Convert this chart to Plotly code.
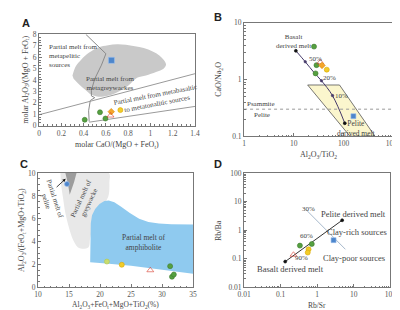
import plotly.graph_objects as go
import math

# ---------------- Panel A data ----------------
A_grey_x = [0.30, 0.33, 0.38, 0.45, 0.53, 0.62, 0.70, 0.78, 0.86, 0.94, 1.02, 1.08, 1.12, 1.14, 1.12, 1.05, 0.96, 0.88, 0.80, 0.72, 0.65, 0.58, 0.52, 0.47, 0.42, 0.36, 0.31]
A_grey_y = [4.4, 5.2, 5.8, 6.4, 6.85, 7.05, 7.12, 7.08, 6.95, 6.8, 6.5, 6.15, 5.75, 5.35, 5.0, 4.7, 4.4, 4.2, 3.5, 3.0, 2.7, 2.55, 2.55, 2.7, 3.1, 3.6, 4.1]
A_pel_x = [0.42, 0.60, 0.56, 0.50, 0.47, 0.47, 0.50, 0.46, 0.445, 0.45]
A_pel_y = [8.0, 6.3, 5.3, 4.1, 3.1, 2.6, 2.45, 2.2, 1.3, 0.35]
A_up_x = [0.0, 1.4]
A_up_y = [0.95, 4.55]
A_lo_x = [0.45, 1.4]
A_lo_y = [0.30, 1.68]
A_green_x = [0.41, 0.547, 0.596]
A_green_y = [0.51, 1.17, 0.62]
A_yel_x = [0.73]
A_yel_y = [1.36]
A_org_x = [0.648]
A_org_y = [1.22]
A_red_x = [0.642]
A_red_y = [0.88]
A_blue_x = [0.65]
A_blue_y = [5.72]

# ---------------- Panel B data ----------------
B_par_x = [19, 83, 430, 135, 19]
B_par_y = [0.80, 0.80, 0.1, 0.1, 0.80]
B_mix_x = [11, 17, 26, 36, 60, 106]
B_mix_y = [3.2, 2.05, 1.3, 0.95, 0.52, 0.17]
B_tick_x = [17, 36, 60]
B_tick_y = [2.05, 0.95, 0.52]
B_green_x = [25.5, 28.6, 27.4]
B_green_y = [3.79, 1.79, 1.28]
B_red_x = [34.2]
B_red_y = [2.01]
B_org_x = [36.9]
B_org_y = [1.77]
B_yel_x = [46]
B_yel_y = [1.49]
B_blue_x = [158]
B_blue_y = [0.226]
B_ps_y = 0.3

# ---------------- Panel C data ----------------
C_grey_x = [13.6, 21.4, 21.5, 21.3, 20.0, 19.0, 18.4, 18.1, 16.6, 15.8, 15.1, 14.4, 14.0, 13.7]
C_grey_y = [10.0, 10.0, 9.2, 7.9, 6.8, 5.5, 4.3, 3.5, 3.45, 4.0, 5.0, 6.5, 7.9, 9.0]
C_dark_x = [14.4, 16.2, 15.8, 15.1, 14.8]
C_dark_y = [10.0, 10.0, 9.2, 8.1, 9.1]
C_blue_x = [18.4, 18.5, 18.7, 19.2, 19.9, 20.7, 21.4, 22.3, 23.4, 24.8, 26.3, 27.8, 29.5, 31.5, 35.0, 35.0, 30.0, 25.0, 21.0]
C_blue_y = [2.2, 5.6, 6.3, 6.85, 7.3, 7.55, 7.6, 7.45, 7.05, 6.5, 6.0, 5.72, 5.58, 5.52, 5.5, 1.2, 1.55, 1.9, 2.1]
C_green_x = [31.3, 31.6, 31.9]
C_green_y = [1.86, 0.93, 1.13]
C_lime_x = [21.1]
C_lime_y = [2.26]
C_yel_x = [23.5]
C_yel_y = [1.98]
C_red_x = [28.1]
C_red_y = [1.5]
C_blue_pt_x = [14.66]
C_blue_pt_y = [9.04]

# ---------------- Panel D data ----------------
D_mix_x = [0.133, 4.8]
D_mix_y = [0.080, 2.23]
D_30_x = [0.52, 5.9]
D_30_y = [4.9, 0.215]
D_green_x = [0.336, 0.71]
D_green_y = [0.29, 0.33]
D_yel_x = [0.58, 0.55]
D_yel_y = [0.215, 0.166]
D_red_x = [0.224]
D_red_y = [0.139]
D_blue_x = [2.8]
D_blue_y = [0.45]

SERIF = "Liberation Serif"
TXT = "#444444"
GREEN = "#55a040"
YEL = "#f2cc2a"
ORG = "#f4a52a"
LIME = "#c8dc6e"
RED = "#d93a2b"
BLUE = "#4d86cc"

fig = go.Figure()

def pts(x, y, xa, ya, color, symbol="circle", size=5, line="#3f7a30", fill=None):
    fig.add_trace(go.Scatter(x=x, y=y, xaxis=xa, yaxis=ya, mode="markers",
                             marker=dict(color=fill or color, symbol=symbol, size=size,
                                         line=dict(color=line, width=0.6)),
                             hoverinfo="skip"))

def ln(x, y, xa, ya, color, width=1, dash="solid", fill=None, fillcolor=None, mode="lines"):
    fig.add_trace(go.Scatter(x=x, y=y, xaxis=xa, yaxis=ya, mode=mode,
                             line=dict(color=color, width=width, dash=dash),
                             fill=fill, fillcolor=fillcolor, hoverinfo="skip"))

# ---- Panel A ----
fig.add_trace(go.Scatter(x=A_grey_x, y=A_grey_y, xaxis="x", yaxis="y", mode="lines",
                         fill="toself", fillcolor="#c9c9c9", line=dict(width=0, shape="spline"),
                         hoverinfo="skip"))
ln(A_pel_x, A_pel_y, "x", "y", "#8a8a8a", 1)
ln(A_up_x, A_up_y, "x", "y", "#9a9a9a", 1)
ln(A_lo_x, A_lo_y, "x", "y", "#9a9a9a", 1)
pts(A_green_x, A_green_y, "x", "y", GREEN)
pts(A_yel_x, A_yel_y, "x", "y", YEL, line="#d9a800")
pts(A_org_x, A_org_y, "x", "y", ORG, symbol="diamond", line="#d98a00")
pts(A_red_x, A_red_y, "x", "y", RED, symbol="triangle-up-open", size=6, line=RED)
pts(A_blue_x, A_blue_y, "x", "y", BLUE, symbol="square", size=6, line="#9cc0ec")

# ---- Panel B ----
ln(B_par_x, B_par_y, "x2", "y2", "#555555", 0.8, fill="toself", fillcolor="#fbf6cd")
ln([1, 1000], [B_ps_y, B_ps_y], "x2", "y2", "#999999", 1, dash="dot")
fig.add_trace(go.Scatter(x=B_mix_x, y=B_mix_y, xaxis="x2", yaxis="y2", mode="lines",
                         line=dict(color="#463a6a", width=1, shape="spline"), hoverinfo="skip"))
pts([B_mix_x[0], B_mix_x[-1]], [B_mix_y[0], B_mix_y[-1]], "x2", "y2", "#111111", size=3, line="#111111")
pts(B_tick_x, B_tick_y, "x2", "y2", "#463a6a", size=2.5, line="#463a6a")
pts(B_green_x, B_green_y, "x2", "y2", GREEN)
pts(B_red_x, B_red_y, "x2", "y2", RED, symbol="triangle-up-open", size=6, line=RED)
pts(B_org_x, B_org_y, "x2", "y2", ORG, symbol="diamond", line="#d98a00")
pts(B_yel_x, B_yel_y, "x2", "y2", YEL, line="#d9a800")
pts(B_blue_x, B_blue_y, "x2", "y2", BLUE, symbol="square", size=5, line="#9cc0ec")

# ---- Panel C ----
fig.add_trace(go.Scatter(x=C_grey_x, y=C_grey_y, xaxis="x3", yaxis="y3", mode="lines",
                         fill="toself", fillcolor="#e8e8e8", line=dict(width=0, shape="spline"),
                         hoverinfo="skip"))
ln(C_dark_x, C_dark_y, "x3", "y3", "#9a9a9a", 0, fill="toself", fillcolor="#9c9c9c")
fig.add_trace(go.Scatter(x=C_blue_x, y=C_blue_y, xaxis="x3", yaxis="y3", mode="lines",
                         fill="toself", fillcolor="#8fcaef", line=dict(width=0),
                         hoverinfo="skip"))
pts(C_blue_pt_x, C_blue_pt_y, "x3", "y3", BLUE, symbol="circle", size=5, line="#9cc0ec")
pts(C_lime_x, C_lime_y, "x3", "y3", LIME, line="#b0c850")
pts(C_yel_x, C_yel_y, "x3", "y3", YEL, line="#d9a800")
pts(C_red_x, C_red_y, "x3", "y3", RED, symbol="triangle-up-open", size=6, line=RED)
pts(C_green_x, C_green_y, "x3", "y3", GREEN)

# ---- Panel D ----
ln(D_30_x, D_30_y, "x4", "y4", "#a7b9cc", 1)
ln(D_mix_x, D_mix_y, "x4", "y4", "#333333", 1)
pts(D_mix_x, D_mix_y, "x4", "y4", "#111111", size=3, line="#111111")
pts(D_green_x, D_green_y, "x4", "y4", GREEN)
pts(D_yel_x, D_yel_y, "x4", "y4", YEL, line="#d9a800")
pts(D_red_x, D_red_y, "x4", "y4", RED, symbol="triangle-up-open", size=6, line=RED)
pts(D_blue_x, D_blue_y, "x4", "y4", BLUE, symbol="square", size=5, line="#9cc0ec")

# ---- Axes ----
def ax(domain, anchor, **kw):
    d = dict(domain=domain, anchor=anchor, showline=True, mirror=True, linecolor="#777777",
             linewidth=1, ticks="inside", ticklen=3, tickcolor="#777777", showgrid=False,
             zeroline=False, tickfont=dict(family=SERIF, size=7.5, color="#555555"))
    d.update(kw)
    return d

minor_lin = lambda dt: dict(ticks="inside", ticklen=1.5, tickcolor="#777777", dtick=dt, showgrid=False)
minor_log = dict(ticks="inside", ticklen=1.5, tickcolor="#777777", dtick="D1", showgrid=False)

LOW = [0.085, 0.465]

fig.update_layout(
    width=400, height=310, margin=dict(l=0, r=0, t=0, b=0),
    paper_bgcolor="white", plot_bgcolor="white", showlegend=False,
    xaxis=ax([0.0625, 0.4675], "y", range=[0, 1.4], dtick=0.2, tickformat="~g",
             minor=minor_lin(0.04)),
    yaxis=ax([0.6226, 0.9258], "x", range=[0, 8], dtick=1, minor=minor_lin(0.25)),
    xaxis2=ax([0.595, 0.9825], "y2", type="log", range=[0, 3],
              tickvals=[1, 10, 100, 1000], ticktext=["1", "10", "100", "1000"], minor=minor_log),
    yaxis2=ax([0.5871, 0.9645], "x2", type="log", range=[-1, 1],
              tickvals=[0.1, 1, 10], ticktext=["0.1", "1", "10"], minor=minor_log),
    xaxis3=ax([0.06, 0.4625], "y3", range=[10, 35], dtick=5, minor=minor_lin(1)),
    yaxis3=ax(LOW, "x3", range=[0, 10], dtick=2, minor=minor_lin(0.5)),
    xaxis4=ax([0.595, 0.975], "y4", type="log", range=[-2, 2],
              tickvals=[0.01, 0.1, 1, 10, 100], ticktext=["0.01", "0.1", "1", "10", "100"],
              minor=minor_log),
    yaxis4=ax(LOW, "x4", type="log", range=[-2, 2],
              tickvals=[0.01, 0.1, 1, 10, 100], ticktext=["0.01", "0.1", "1", "10", "100"],
              minor=minor_log),
)

# Axis titles (paper coordinates)
axis_titles = [
    ("molar CaO/(MgO + FeO<sub>t</sub>)", 0.265, 0.558, 0, 8),
    ("molar Al<sub>2</sub>O<sub>3</sub>/(MgO + FeO<sub>t</sub>)", 0.028, 0.774, -90, 8),
    ("Al<sub>2</sub>O<sub>3</sub>/TiO<sub>2</sub>", 0.789, 0.526, 0, 8),
    ("CaO/Na<sub>2</sub>O", 0.531, 0.776, -90, 8),
    ("Al<sub>2</sub>O<sub>3</sub>+FeO<sub>t</sub>+MgO+TiO<sub>2</sub>(%)", 0.261, 0.026, 0, 7.5),
    ("Al<sub>2</sub>O<sub>3</sub>/(FeO<sub>t</sub>+MgO+TiO<sub>2</sub>)", 0.02, 0.275, -90, 8),
    ("Rb/Sr", 0.785, 0.026, 0, 7.5),
    ("Rb/Ba", 0.527, 0.275, -90, 8),
]
for t, px, py, ang, fs in axis_titles:
    fig.add_annotation(text=t, x=px, y=py, xref="paper", yref="paper", showarrow=False,
                       textangle=ang, xanchor="center", yanchor="middle",
                       font=dict(family=SERIF, size=fs, color="#444444"))

def note(text, x, y, xr, yr, size=7, angle=0, xanchor="center", align="center", color=TXT):
    fig.add_annotation(text=text, x=x, y=y, xref=xr, yref=yr, showarrow=False,
                       font=dict(family=SERIF, size=size, color=color), textangle=angle,
                       xanchor=xanchor, align=align)

# Panel letters
for lab, px, py in [("A", 0.012, 0.962), ("B", 0.512, 0.985), ("C", 0.008, 0.495), ("D", 0.512, 0.495)]:
    fig.add_annotation(text="<b>%s</b>" % lab, x=px, y=py, xref="paper", yref="paper",
                       showarrow=False, xanchor="left", yanchor="middle",
                       font=dict(family="Liberation Sans", size=11, color="#222222"))

# Panel A texts
note("Partial melt from<br>metapelitic<br>sources", 0.07, 6.1, "x", "y", xanchor="left", align="left")
note("Partial melt from<br>metagreywackes", 0.635, 3.7, "x", "y")
note("Partial melt from metabasaltic<br>to metatonalitic sources", 1.05, 2.25, "x", "y", angle=-11)

# Panel B texts
note("Basalt<br>derived melt", math.log10(9.7), math.log10(4.6), "x2", "y2")
note("50%", math.log10(27.5), math.log10(2.3), "x2", "y2")
note("20%", math.log10(53), math.log10(1.05), "x2", "y2")
note("10%", math.log10(90), math.log10(0.51), "x2", "y2")
note("Pelite<br>derived melt", math.log10(185), math.log10(0.135), "x2", "y2", size=7.5)
note("Psammite", 0.02, math.log10(0.37), "x2", "y2", xanchor="left")
note("Pelite", 0.15, math.log10(0.237), "x2", "y2", xanchor="left")

# Panel C texts
note("Partial melt of<br>pelite", 12.0, 7.6, "x3", "y3", angle=72)
note("Partial melt of<br>greywacke", 17.6, 7.6, "x3", "y3", angle=-65)
note("Partial melt of<br>amphibolite", 27.0, 3.9, "x3", "y3", size=7.5)
fig.add_annotation(x=14.45, y=9.5, ax=12.75, ay=8.65, xref="x3", yref="y3", axref="x3", ayref="y3",
                   showarrow=True, arrowhead=2, arrowsize=0.8, arrowwidth=0.8, arrowcolor="#111111", text="")

# Panel D texts
note("30%", math.log10(0.56), math.log10(5.6), "x4", "y4", size=7)
note("60%", math.log10(0.52), math.log10(0.64), "x4", "y4", size=7)
note("90%", math.log10(0.38), math.log10(0.105), "x4", "y4", size=7)
note("Pelite derived melt", math.log10(9.7), math.log10(3.8), "x4", "y4", size=8.5)
note("Clay-rich sources", math.log10(12), math.log10(0.9), "x4", "y4", size=8.5)
note("Clay-poor sources", math.log10(10), math.log10(0.104), "x4", "y4", size=8.5)
note("Basalt derived melt", math.log10(0.19), math.log10(0.043), "x4", "y4", size=8.5)

fig.write_html("out.html")
